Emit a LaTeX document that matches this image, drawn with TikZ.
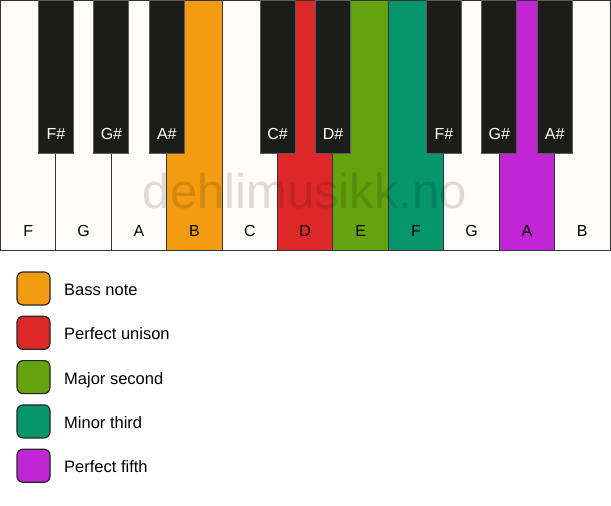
\documentclass[tikz,border=0pt]{standalone}
\usepackage{fontspec}
\setmainfont{Liberation Sans}
\definecolor{keyline}{HTML}{333333}
\definecolor{ivory}{HTML}{FDFCF9}
\definecolor{ebony}{HTML}{1C1C1A}
\definecolor{cOrange}{HTML}{F39C12}
\definecolor{cRed}{HTML}{DE2828}
\definecolor{cGreen}{HTML}{64A20E}
\definecolor{cTeal}{HTML}{05966C}
\definecolor{cPurple}{HTML}{C026D3}
\tikzset{
  whitekey/.style={draw=keyline, line width=1pt, fill=ivory, minimum width=55.545pt, minimum height=250pt, inner sep=0pt, outer sep=0pt, anchor=north west},
  blackkey/.style={draw=keyline!80, line width=1pt, fill=ebony, minimum width=35pt, minimum height=153pt, inner sep=0pt, outer sep=0pt, anchor=north},
  wlabel/.style={font=\fontsize{16}{19}\selectfont, text=black, inner sep=0pt, anchor=base},
  blabel/.style={font=\fontsize{16}{19}\selectfont, text=white, inner sep=0pt, anchor=base},
  legbox/.style={draw=black!85, line width=1.2pt, rounded corners=6pt, minimum width=33pt, minimum height=33pt, inner sep=0pt, outer sep=0pt, anchor=north west},
  legtext/.style={font=\fontsize{16.5}{19}\selectfont, anchor=base west, inner sep=0pt},
}
\begin{document}
\begin{tikzpicture}[x=1pt,y=-1pt]
\useasboundingbox[fill=white] (0,0) rectangle (611,506);
% white keys
\foreach \i/\n/\c in {0/F/ivory,1/G/ivory,2/A/ivory,3/B/cOrange,4/C/ivory,5/D/cRed,6/E/cGreen,7/F/cTeal,8/G/ivory,9/A/cPurple,10/B/ivory}{
  \node[whitekey, fill=\c] (w\i) at ({0.5+\i*55.4}, 0.5) {};
  \node[wlabel] (wl\i) at ([yshift=14pt]w\i.south) {\n};
}
% watermark
\node[font=\fontsize{49}{56}\selectfont, text=black, text opacity=0.13, inner sep=0pt, anchor=base] (wm) at (305,208) {dehlimusikk.no};
% black keys
\foreach \i/\n in {0/F\#,1/G\#,2/A\#,4/C\#,5/D\#,7/F\#,8/G\#,9/A\#}{
  \node[blackkey] (b\i) at (w\i.north east) {};
  \node[blabel] (bl\i) at ([yshift=14pt]b\i.south) {\n};
}
% legend
\foreach \k/\c/\t in {0/cOrange/Bass note,1/cRed/Perfect unison,2/cGreen/Major second,3/cTeal/Minor third,4/cPurple/Perfect fifth}{
  \node[legbox, fill=\c] (lb\k) at (17, {272+\k*44.3}) {};
  \node[legtext] (lt\k) at ([xshift=14pt, yshift=-7pt]lb\k.east) {\t};
}
\end{tikzpicture}
\end{document}
